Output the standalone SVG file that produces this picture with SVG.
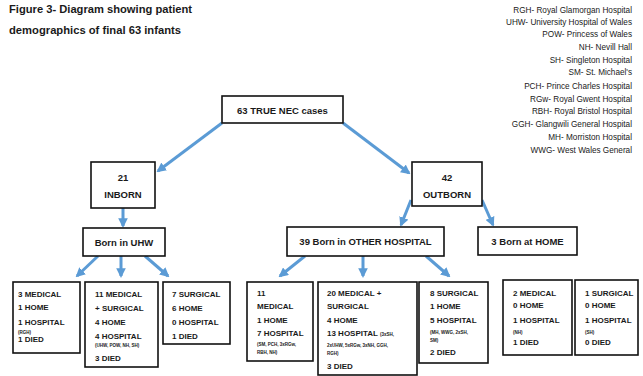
<svg xmlns="http://www.w3.org/2000/svg" width="643" height="376" viewBox="0 0 643 376">
<defs>
<marker id="ah" viewBox="0 0 10 10" refX="8" refY="5" markerWidth="3.2" markerHeight="3.2" orient="auto" markerUnits="strokeWidth">
<path d="M0,0 L10,5 L0,10 z" fill="#5b9bd5"/>
</marker>
</defs>
<style>
text{font-family:"Liberation Sans",Arial,sans-serif;fill:#1a1a1a}
.title{font-size:10.5px;font-weight:bold}
.leg{font-size:8.2px;text-anchor:end}
.box{fill:#fff;stroke:#111;stroke-width:1.6}
.n{font-size:9.5px;font-weight:bold;text-anchor:middle}
.t{font-size:8px;font-weight:bold}
.s{font-size:4.5px;font-weight:bold}
.c line{stroke:#5b9bd5;stroke-width:3;marker-end:url(#ah)}
</style>
<rect width="643" height="376" fill="#fff"/>
<text class="title" x="9" y="13" textLength="183" lengthAdjust="spacingAndGlyphs">Figure 3- Diagram showing patient</text>
<text class="title" x="9" y="34" textLength="172" lengthAdjust="spacingAndGlyphs">demographics of final 63 infants</text>
<g id="legend">
<text class="leg" x="632" y="13">RGH- Royal Glamorgan Hospital</text>
<text class="leg" x="632" y="25">UHW- University Hospital of Wales</text>
<text class="leg" x="632" y="37">POW- Princess of Wales</text>
<text class="leg" x="632" y="50">NH- Nevill Hall</text>
<text class="leg" x="632" y="63">SH- Singleton Hospital</text>
<text class="leg" x="632" y="75">SM- St. Michael's</text>
<text class="leg" x="632" y="89">PCH- Prince Charles Hospital</text>
<text class="leg" x="632" y="102">RGw- Royal Gwent Hospital</text>
<text class="leg" x="632" y="114">RBH- Royal Bristol Hospital</text>
<text class="leg" x="632" y="127">GGH- Glangwili General Hospital</text>
<text class="leg" x="632" y="140">MH- Morriston Hospital</text>
<text class="leg" x="632" y="153">WWG- West Wales General</text>
</g>
<g class="c" id="connectors">
<line x1="222" y1="123" x2="158" y2="171"/>
<line x1="343" y1="123" x2="409" y2="173"/>
<line x1="123" y1="208" x2="123" y2="226"/>
<line x1="98" y1="256" x2="77" y2="276"/>
<line x1="121" y1="256" x2="121" y2="276"/>
<line x1="145" y1="256" x2="168" y2="276"/>
<line x1="411" y1="200" x2="401" y2="225"/>
<line x1="482" y1="200" x2="493" y2="225"/>
<line x1="305" y1="256" x2="280" y2="276"/>
<line x1="363" y1="256" x2="363" y2="276"/>
<line x1="426" y1="256" x2="449" y2="276"/>
</g>
<g id="root"><rect class="box" x="222" y="96" width="121" height="27"/><text class="n" x="282.5" y="113.5">63 TRUE NEC cases</text></g>
<g id="inborn"><rect class="box" x="91" y="162" width="64" height="46"/><text class="n" x="123" y="180.5">21</text><text class="n" x="123" y="197.5">INBORN</text></g>
<g id="uhw"><rect class="box" x="83" y="228" width="82" height="28"/><text class="n" x="124" y="245.5">Born in UHW</text></g>
<g id="outborn"><rect class="box" x="412" y="162" width="70" height="44"/><text class="n" x="447" y="180.5">42</text><text class="n" x="447" y="197.5">OUTBORN</text></g>
<g id="other"><rect class="box" x="287" y="227" width="157" height="29"/><text class="n" x="365.5" y="245">39 Born in OTHER HOSPITAL</text></g>
<g id="home"><rect class="box" x="478" y="227" width="99" height="28"/><text class="n" x="527.5" y="245">3 Born at HOME</text></g>
<g id="a"><rect class="box" x="13" y="282" width="67" height="71"/>
<text class="t" x="18" y="297">3 MEDICAL</text><text class="t" x="18" y="310">1 HOME</text><text class="t" x="18" y="325">1 HOSPITAL</text><text class="s" x="18" y="334">(RGH)</text><text class="t" x="18" y="342">1 DIED</text></g>
<g id="b"><rect class="box" x="85" y="282" width="73" height="85"/>
<text class="t" x="95" y="297">11 MEDICAL</text><text class="t" x="95" y="311">+ SURGICAL</text><text class="t" x="95" y="325">4 HOME</text><text class="t" x="95" y="339">4 HOSPITAL</text><text class="s" x="95" y="347">(UHW, POW, NH, SH)</text><text class="t" x="95" y="361">3 DIED</text></g>
<g id="cc"><rect class="box" x="163" y="282" width="67" height="62"/>
<text class="t" x="172" y="297">7 SURGICAL</text><text class="t" x="172" y="311">6 HOME</text><text class="t" x="172" y="325">0 HOSPITAL</text><text class="t" x="172" y="339">1 DIED</text></g>
<g id="d"><rect class="box" x="247" y="282" width="66" height="79"/>
<text class="t" x="257" y="296">11</text><text class="t" x="257" y="309">MEDICAL</text><text class="t" x="257" y="323">1 HOME</text><text class="t" x="257" y="336">7 HOSPITAL</text><text class="s" x="257" y="346">(SM, PCH, 3xRGw,</text><text class="s" x="257" y="354">RBH, NH)</text></g>
<g id="e"><rect class="box" x="318" y="282" width="99" height="93"/>
<text class="t" x="327" y="296">20 MEDICAL +</text><text class="t" x="327" y="309">SURGICAL</text><text class="t" x="327" y="323">4 HOME</text><text class="t" x="327" y="336">13 HOSPITAL <tspan class="s" font-size="4.5">(3xSH,</tspan></text><text class="s" x="327" y="347">2xUHW, 5xRGw, 3xNH, GGH,</text><text class="s" x="327" y="355">RGH)</text><text class="t" x="327" y="369">3 DIED</text></g>
<g id="f"><rect class="box" x="419" y="282" width="69" height="81"/>
<text class="t" x="430" y="296">8 SURGICAL</text><text class="t" x="430" y="309">1 HOME</text><text class="t" x="430" y="323">5 HOSPITAL</text><text class="s" x="430" y="334">(MH, WWG, 2xSH,</text><text class="s" x="430" y="342">SM)</text><text class="t" x="430" y="355">2 DIED</text></g>
<g id="g"><rect class="box" x="503" y="280" width="69" height="75"/>
<text class="t" x="513" y="296">2 MEDICAL</text><text class="t" x="513" y="308">0 HOME</text><text class="t" x="513" y="323">1 HOSPITAL</text><text class="s" x="513" y="334">(NH)</text><text class="t" x="513" y="345">1 DIED</text></g>
<g id="h"><rect class="box" x="575" y="280" width="63" height="75"/>
<text class="t" x="585" y="296">1 SURGICAL</text><text class="t" x="585" y="308">0 HOME</text><text class="t" x="585" y="323">1 HOSPITAL</text><text class="s" x="585" y="334">(SH)</text><text class="t" x="585" y="345">0 DIED</text></g>
</svg>
